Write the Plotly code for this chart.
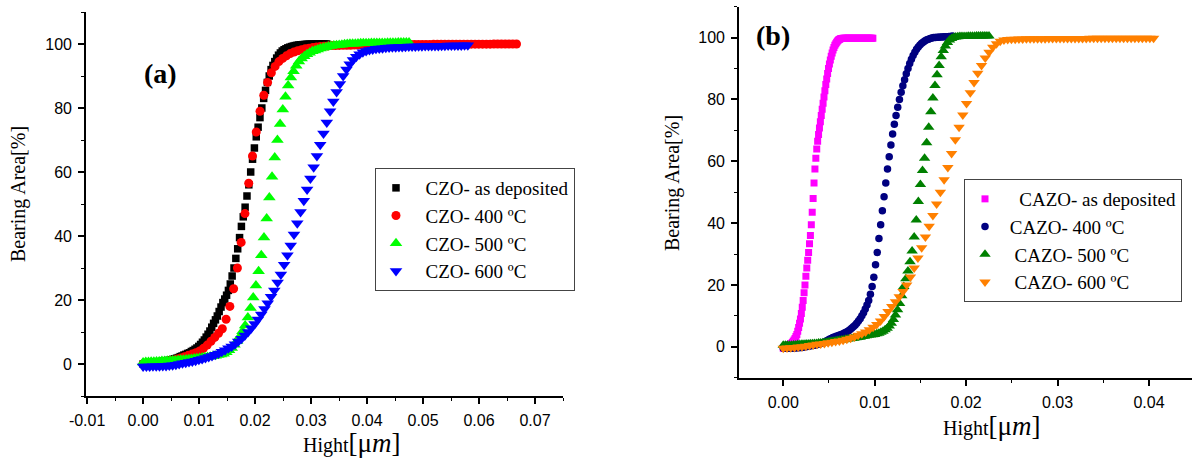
import numpy as np
import plotly.graph_objects as go

# ---------------- data: panel (a) ----------------
a_names = ["CZO- as deposited", "CZO- 400 ºC", "CZO- 500 ºC", "CZO- 600 ºC"]
a_xmax = [0.0328, 0.0667, 0.0475, 0.0580]   # last height value of each series (µm)

a_asdep = [0, 0.1, 0.2, 0.3, 0.35, 0.4, 0.5, 0.55, 0.6, 0.7,
           0.8, 0.85, 0.95, 1.05, 1.15, 1.3, 1.45, 1.6, 1.8, 2.0,
           2.3, 2.5, 2.8, 3.0, 3.3, 3.5, 3.9, 4.2, 4.6, 5.0,
           5.5, 6.1, 6.8, 7.5, 8.4, 9.3, 10.3, 11.5, 12.7, 13.8,
           15.0, 16.4, 17.8, 19.2, 20.3, 21.5, 23.0, 25.0, 27.5, 30.0,
           33.0, 36.0, 39.5, 43.0, 46.0, 49.0, 52.5, 56.0, 60.0, 64.0,
           67.5, 71.0, 74.0, 77.0, 80.0, 83.0, 85.5, 88.0, 90.0, 92.0,
           93.3, 94.5, 95.6, 96.5, 97.2, 97.8, 98.2, 98.5, 98.8, 99.0,
           99.2, 99.35, 99.5, 99.6, 99.7, 99.75, 99.8, 99.85, 99.9, 99.92,
           99.94, 99.95, 99.96, 99.97, 99.98, 99.99, 100, 100, 100, 100]
a_400 = [0, 0.1, 0.2, 0.3, 0.4, 0.6, 0.8, 1.0, 1.2, 1.6,
         1.9, 2.3, 2.7, 3.1, 3.5, 4.1, 4.9, 5.9, 7.1, 8.3,
         9.6, 11.0, 14.0, 18.0, 23.5, 30.0, 38.0, 47.0, 56.5, 65.0,
         72.5, 79.0, 84.0, 88.0, 91.0, 93.0, 94.5, 95.5, 96.3, 97.0,
         97.5, 97.9, 98.2, 98.5, 98.7, 98.9, 99.05, 99.2, 99.3, 99.4,
         99.5, 99.52, 99.55, 99.58, 99.6, 99.62, 99.65, 99.68, 99.7, 99.72,
         99.75, 99.76, 99.77, 99.78, 99.79, 99.8, 99.81, 99.82, 99.83, 99.84,
         99.85, 99.86, 99.86, 99.87, 99.87, 99.88, 99.88, 99.89, 99.89, 99.9,
         99.9, 99.91, 99.91, 99.92, 99.92, 99.93, 99.93, 99.94, 99.94, 99.95,
         99.95, 99.96, 99.96, 99.97, 99.97, 99.98, 99.98, 99.99, 99.99, 100]
a_500 = [0.5, 0.6, 0.6, 0.7, 0.7, 0.8, 0.8, 0.9, 0.9, 1.0,
         1.0, 1.1, 1.1, 1.2, 1.3, 1.3, 1.4, 1.5, 1.6, 1.7,
         1.8, 1.9, 2.0, 2.1, 2.2, 2.3, 2.4, 2.6, 2.8, 3.0,
         3.2, 3.7, 4.3, 5.0, 6.0, 7.2, 8.6, 10.2, 12.0, 14.5,
         17.5, 20.8, 24.5, 29.0, 34.0, 39.5, 45.5, 52.0, 58.5, 64.5,
         70.0, 75.0, 79.5, 83.5, 87.0, 89.5, 91.5, 93.2, 94.5, 95.5,
         96.2, 96.8, 97.3, 97.7, 98.0, 98.3, 98.6, 98.8, 99.0, 99.2,
         99.35, 99.5, 99.6, 99.7, 99.8, 99.9, 100.0, 100.05, 100.1, 100.1,
         100.15, 100.2, 100.2, 100.25, 100.25, 100.3, 100.3, 100.3, 100.35, 100.35,
         100.35, 100.4, 100.4, 100.4, 100.4, 100.45, 100.45, 100.45, 100.5, 100.5]
a_600 = [-0.8, -0.8, -0.8, -0.7, -0.7, -0.7, -0.6, -0.6, -0.5, -0.4,
         -0.2, 0.0, 0.2, 0.4, 0.6, 0.8, 1.0, 1.3, 1.6, 1.9,
         2.2, 2.5, 2.9, 3.3, 3.8, 4.3, 4.9, 5.5, 6.2, 7.0,
         7.9, 8.9, 10.0, 11.2, 12.5, 13.9, 15.5, 17.2, 19.0, 21.0,
         23.0, 25.5, 28.0, 31.0, 34.0, 37.0, 40.5, 44.0, 47.5, 51.0,
         54.5, 58.0, 61.5, 65.0, 68.5, 72.0, 75.5, 79.0, 82.0, 85.0,
         87.5, 90.0, 92.0, 93.7, 95.0, 96.0, 96.8, 97.4, 97.8, 98.1,
         98.3, 98.5, 98.6, 98.7, 98.8, 98.9, 98.95, 99.0, 99.05, 99.1,
         99.15, 99.2, 99.2, 99.25, 99.3, 99.3, 99.35, 99.35, 99.4, 99.4,
         99.4, 99.45, 99.45, 99.5, 99.5, 99.5, 99.55, 99.55, 99.6, 99.6]

# ---------------- data: panel (b) ----------------
b_names = ["\u00a0\u00a0\u00a0CAZO- as deposited", "\u00a0CAZO- 400 ºC",
           "\u00a0\u00a0CAZO- 500 ºC", "\u00a0\u00a0CAZO- 600 ºC"]
b_xmax = [0.0098, 0.0185, 0.0225, 0.0405]

b_asdep = [-0.5, -0.3, -0.2, 0.0, 0.2, 0.3, 0.5, 0.7, 0.9, 1.1,
           1.4, 1.8, 2.2, 2.7, 3.3, 4.0, 5.0, 6.2, 7.6, 9.0,
           10.8, 12.8, 15.0, 17.5, 20.0, 22.8, 25.5, 28.0, 30.5, 33.3,
           36.0, 39.5, 43.5, 48.0, 53.0, 57.5, 61.0, 64.0, 66.5, 68.7,
           70.8, 72.8, 74.8, 76.8, 78.8, 80.8, 82.8, 84.8, 86.6, 88.4,
           90.0, 91.5, 92.8, 94.0, 95.0, 96.0, 96.8, 97.5, 98.0, 98.5,
           98.9, 99.2, 99.4, 99.6, 99.7, 99.75, 99.8, 99.8, 99.8, 99.8,
           99.8, 99.8, 99.8, 99.8, 99.8, 99.8, 99.8, 99.8, 99.8, 99.8,
           99.8, 99.8, 99.8, 99.8, 99.8, 99.8, 99.8, 99.8, 99.8, 99.8,
           99.8, 99.8, 99.8, 99.8, 99.8, 99.8, 99.8, 99.8, 99.8, 99.8]
b_400 = [-0.5, -0.5, -0.5, -0.5, -0.5, -0.5, -0.4, -0.4, -0.3, -0.3,
         -0.2, -0.2, -0.1, 0.0, 0.1, 0.2, 0.3, 0.4, 0.5, 0.6,
         0.7, 0.9, 1.1, 1.3, 1.5, 1.8, 2.1, 2.4, 2.7, 3.0,
         3.2, 3.4, 3.6, 3.8, 4.0, 4.2, 4.5, 4.8, 5.1, 5.5,
         6.0, 6.5, 7.0, 7.6, 8.3, 9.1, 10.0, 11.0, 12.2, 13.5,
         15.0, 17.0, 19.5, 22.5, 26.5, 30.5, 35.0, 39.5, 44.0, 48.5,
         53.0, 57.5, 61.5, 65.3, 68.8, 72.0, 74.8, 77.5, 80.0, 82.3,
         84.4, 86.4, 88.3, 90.0, 91.6, 93.0, 94.2, 95.3, 96.2, 97.0,
         97.6, 98.2, 98.6, 99.0, 99.3, 99.5, 99.7, 99.85, 100.0, 100.0,
         100.1, 100.1, 100.2, 100.2, 100.3, 100.3, 100.3, 100.4, 100.4, 100.5]
b_500 = [0.5, 0.5, 0.5, 0.5, 0.5, 0.6, 0.6, 0.7, 0.7, 0.8,
         0.8, 0.9, 0.9, 1.0, 1.0, 1.1, 1.1, 1.2, 1.2, 1.3,
         1.4, 1.5, 1.6, 1.7, 1.8, 1.9, 2.0, 2.1, 2.2, 2.3,
         2.4, 2.5, 2.6, 2.7, 2.8, 2.9, 3.0, 3.1, 3.3, 3.4,
         3.6, 3.7, 3.8, 3.9, 4.0, 4.2, 4.4, 4.7, 5.0, 5.5,
         6.0, 6.7, 7.6, 8.8, 10.3, 12.0, 14.0, 16.5, 19.5, 22.0,
         24.5, 27.5, 31.0, 35.5, 41.0, 47.0, 52.5, 57.0, 61.0, 66.0,
         71.0, 76.0, 80.5, 84.5, 88.0, 91.0, 93.8, 95.8, 97.3, 98.4,
         99.2, 99.7, 100.0, 100.2, 100.3, 100.4, 100.4, 100.4, 100.4, 100.45,
         100.45, 100.45, 100.45, 100.5, 100.5, 100.5, 100.5, 100.5, 100.5, 100.5]
b_600 = [-0.5, -0.4, -0.3, -0.2, -0.1, 0.0, 0.2, 0.4, 0.6, 0.8,
         0.9, 1.1, 1.3, 1.5, 1.7, 1.9, 2.1, 2.4, 2.8, 3.2,
         3.7, 4.2, 4.8, 5.5, 6.3, 7.2, 8.3, 9.8, 11.4, 13.0,
         14.6, 16.2, 17.9, 20.0, 22.6, 25.5, 28.7, 32.0, 35.5, 39.0,
         42.5, 46.2, 50.0, 54.0, 58.0, 62.5, 67.0, 71.0, 75.0, 78.7,
         82.2, 85.5, 88.5, 91.0, 93.4, 95.3, 96.9, 98.0, 98.8, 99.2,
         99.4, 99.5, 99.5, 99.55, 99.55, 99.6, 99.6, 99.6, 99.65, 99.65,
         99.65, 99.7, 99.7, 99.7, 99.7, 99.7, 99.75, 99.75, 99.75, 99.75,
         99.75, 99.75, 99.8, 99.8, 99.8, 99.8, 99.8, 99.8, 99.8, 99.8,
         99.8, 99.8, 99.8, 99.8, 99.8, 99.8, 99.8, 99.8, 99.8, 99.8]

# tick labels
a_xticks = [-0.01, 0.0, 0.01, 0.02, 0.03, 0.04, 0.05, 0.06, 0.07]
a_xticklabels = ["-0.01", "0.00", "0.01", "0.02", "0.03", "0.04", "0.05", "0.06", "0.07"]
b_xticks = [0.0, 0.01, 0.02, 0.03, 0.04]
b_xticklabels = ["0.00", "0.01", "0.02", "0.03", "0.04"]
y_ticks = [0, 20, 40, 60, 80, 100]
y_ticklabels = ["0", "20", "40", "60", "80", "100"]

# ---------------- styles ----------------
W, H = 1192, 462
a_colors = ["#000000", "#ff0000", "#00ff00", "#0000ff"]
a_symbols = ["square", "circle", "triangle-up", "triangle-down"]
a_sizes = [7.5, 9, 11, 11]
b_colors = ["#ff00ff", "#000080", "#008000", "#ff8000"]
b_symbols = ["square", "circle", "triangle-up", "triangle-down"]
b_sizes = [7, 7.5, 10, 10]

SERIF = "Liberation Serif, Times New Roman, serif"
SANS = "Liberation Sans, Arial, sans-serif"

fig = go.Figure()
a_series = [a_asdep, a_400, a_500, a_600]
for name, ys, xm, c, s, sz in zip(a_names, a_series, a_xmax, a_colors, a_symbols, a_sizes):
    xs = np.linspace(0, xm, len(ys))
    fig.add_trace(go.Scatter(x=xs, y=ys, mode="markers", name="\u00a0\u00a0" + name,
                             marker=dict(color=c, symbol=s, size=sz, line=dict(width=0)),
                             xaxis="x", yaxis="y", legend="legend"))
b_series = [b_asdep, b_400, b_500, b_600]
for name, ys, xm, c, s, sz in zip(b_names, b_series, b_xmax, b_colors, b_symbols, b_sizes):
    xs = np.linspace(0, xm, len(ys))
    fig.add_trace(go.Scatter(x=xs, y=ys, mode="markers", name=name,
                             marker=dict(color=c, symbol=s, size=sz, line=dict(width=0)),
                             xaxis="x2", yaxis="y2", legend="legend2"))


def axis_style(**kw):
    d = dict(showline=True, linecolor="black", linewidth=1.6, ticks="outside",
             ticklen=6, tickwidth=1.5, tickcolor="black", showgrid=False, zeroline=False,
             tickfont=dict(family=SANS, size=16, color="black"), ticklabelstandoff=3,
             tickmode="array", fixedrange=True, automargin=False)
    d.update(kw)
    return d


minor_x = dict(ticks="outside", ticklen=3, tickwidth=1.3, tickcolor="black",
               tickmode="linear", dtick=0.005, showgrid=False)
minor_y = dict(ticks="outside", ticklen=3, tickwidth=1.3, tickcolor="black",
               tickmode="linear", tick0=0, dtick=10, showgrid=False)

ax_l, ax_r = 86 / W, 563 / W
ay_b, ay_t = 1 - 396 / H, 1 - 12 / H
bx_l, bx_r = 739 / W, 1.0
by_b, by_t = 1 - 377.7 / H, 1 - 6.7 / H

fig.update_layout(
    template="none",
    width=W, height=H, autosize=False, margin=dict(l=0, r=0, t=0, b=0, pad=0),
    plot_bgcolor="white", paper_bgcolor="white",
    xaxis=axis_style(domain=[ax_l, ax_r], anchor="y", range=[-0.0102, 0.075],
                     tickvals=a_xticks, ticktext=a_xticklabels,
                     minor=dict(minor_x, tick0=-0.01)),
    yaxis=axis_style(domain=[ay_b, ay_t], anchor="x", range=[-10, 110],
                     tickvals=y_ticks, ticktext=y_ticklabels, minor=minor_y),
    xaxis2=axis_style(domain=[bx_l, bx_r], anchor="y2", range=[-0.00484, 0.0447],
                      tickvals=b_xticks, ticktext=b_xticklabels,
                      minor=dict(minor_x, tick0=0)),
    yaxis2=axis_style(domain=[by_b, by_t], anchor="x2", range=[-10, 110],
                      tickvals=y_ticks, ticktext=y_ticklabels, minor=minor_y),
    legend=dict(x=375 / W, y=1 - 168 / H, xanchor="left", yanchor="top",
                bordercolor="#444", borderwidth=1, bgcolor="white",
                font=dict(family=SERIF, size=19, color="black"),
                itemsizing="trace", tracegroupgap=0),
    legend2=dict(x=964 / W, y=1 - 179 / H, xanchor="left", yanchor="top",
                 bordercolor="#444", borderwidth=1, bgcolor="white",
                 font=dict(family=SERIF, size=19, color="black"),
                 itemsizing="trace", tracegroupgap=0),
    showlegend=True,
)

xt = "Hight<span style='font-size:27px'>[μ<i>m</i>]</span>"
ann = [
    dict(x=18 / W, y=1 - 194 / H, text="Bearing Area[%]", textangle=-90),
    dict(x=673 / W, y=1 - 183 / H, text="Bearing Area[%]", textangle=-90),
    dict(x=352 / W, y=1 - 443 / H, text=xt),
    dict(x=992 / W, y=1 - 426 / H, text=xt),
]
for a in ann:
    fig.add_annotation(xref="paper", yref="paper", showarrow=False,
                       font=dict(family=SERIF, size=20, color="black"),
                       xanchor="center", yanchor="middle", **a)
fig.add_annotation(xref="paper", yref="paper", x=160 / W, y=1 - 73 / H, text="<b>(a)</b>",
                   xanchor="center", yanchor="middle",
                   showarrow=False, font=dict(family=SERIF, size=28, color="black"))
fig.add_annotation(xref="paper", yref="paper", x=773 / W, y=1 - 35 / H, text="<b>(b)</b>",
                   xanchor="center", yanchor="middle",
                   showarrow=False, font=dict(family=SERIF, size=28, color="black"))

fig.write_html("out.html")
